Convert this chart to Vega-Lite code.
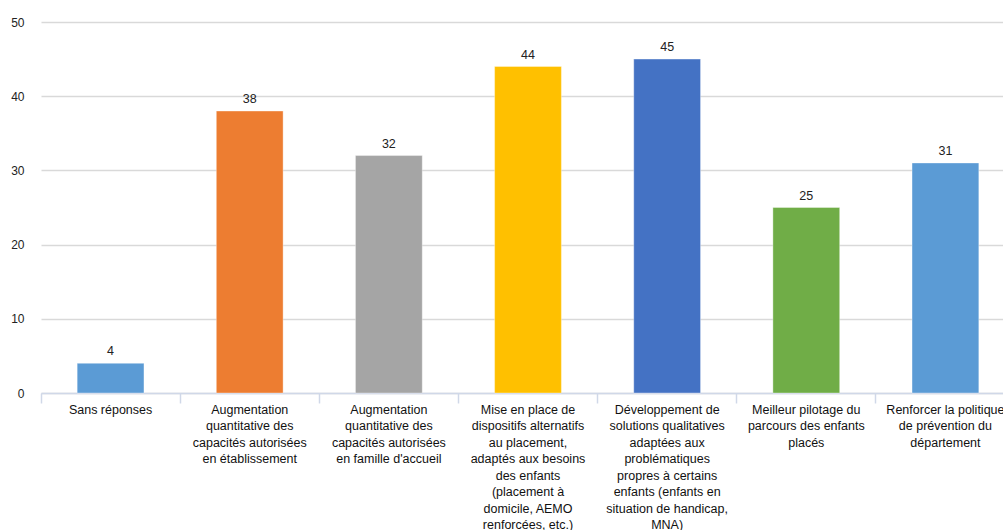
{
  "$schema": "https://vega.github.io/schema/vega-lite/v6.json",
  "autosize": {"type": "none"},
  "padding": {"left": 41, "top": 22, "right": 0, "bottom": 137},
  "width": 962,
  "height": 371,
  "background": "white",
  "config": {"view": {"stroke": null}, "font": "Liberation Sans"},
  "data": {"values": [
    {"cat": "Sans réponses", "value": 4},
    {"cat": "Augmentation|quantitative des|capacités autorisées|en établissement", "value": 38},
    {"cat": "Augmentation|quantitative des|capacités autorisées|en famille d'accueil", "value": 32},
    {"cat": "Mise en place de|dispositifs alternatifs|au placement,|adaptés aux besoins|des enfants|(placement à|domicile, AEMO|renforcées, etc.)", "value": 44},
    {"cat": "Développement de|solutions qualitatives|adaptées aux|problématiques|propres à certains|enfants (enfants en|situation de handicap,|MNA)", "value": 45},
    {"cat": "Meilleur pilotage du|parcours des enfants|placés", "value": 25},
    {"cat": "Renforcer la politique|de prévention du|département", "value": 31}
  ]},
  "encoding": {
    "x": {"field": "cat", "type": "nominal", "sort": null,
      "scale": {"range": [0, 974], "paddingInner": 0, "paddingOuter": 0}},
    "y": {"field": "value", "type": "quantitative",
      "scale": {"domain": [0, 50]},
      "axis": {"title": null, "values": [0, 10, 20, 30, 40, 50], "domain": false, "ticks": false,
        "grid": true, "gridColor": "#D9D9D9", "gridWidth": 1.5,
        "labelFontSize": 12, "labelColor": "#222222", "labelPadding": 17, "labelFont": "Liberation Sans"}}
  },
  "layer": [
    {
      "mark": {"type": "bar", "width": {"band": 0.48}, "stroke": "#ffffff", "strokeOpacity": 0.35, "strokeWidth": 1},
      "encoding": {
        "x": {"field": "cat", "type": "nominal", "sort": null,
          "axis": {"orient": "bottom", "title": null, "labelAngle": 0, "ticks": false, "domain": true, "domainColor": "#D0D8E8", "domainWidth": 1.5,
            "labelExpr": "split(datum.label, '|')", "labelFontSize": 12.5, "labelLineHeight": 16.5,
            "labelColor": "#111111", "labelPadding": 10, "labelLimit": 200, "labelBaseline": "top", "labelFont": "Liberation Sans"}},
        "color": {"field": "cat", "type": "nominal", "sort": null, "legend": null,
          "scale": {"range": ["#5B9BD5", "#ED7D31", "#A5A5A5", "#FFC000", "#4472C4", "#70AD47", "#5B9BD5"]}}
      }
    },
    {
      "mark": {"type": "text", "baseline": "alphabetic", "dy": -8, "fontSize": 12.5, "color": "#222222", "font": "Liberation Sans"},
      "encoding": {
        "x": {"field": "cat", "type": "nominal", "sort": null,
          "axis": {"orient": "bottom", "title": null, "labels": false, "ticks": true, "bandPosition": 0, "tickSize": 10, "tickColor": "#D0D8E8", "tickWidth": 1.5,
            "domain": false, "grid": false}},
        "text": {"field": "value", "type": "quantitative"}
      }
    }
  ],
  "resolve": {"axis": {"x": "independent"}}
}
